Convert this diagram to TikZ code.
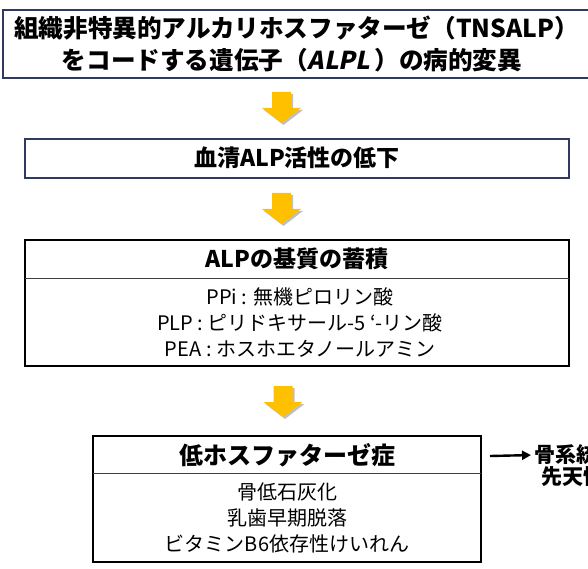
\documentclass[tikz,border=0pt]{standalone}
\usepackage{fontspec}
\setmainfont{Noto Sans CJK JP}
\newfontfamily\slfont{Noto Sans CJK JP}[FakeSlant=0.2]
\usetikzlibrary{arrows.meta}
\definecolor{navy}{HTML}{2E3B5E}
\definecolor{gold}{HTML}{FFC000}
\tikzset{
  navybox/.style={draw=navy, line width=2pt},
  blackbox/.style={draw=black, line width=1.6pt},
  divider/.style={draw=black!75, line width=1pt},
  ttl/.style={font=\bfseries\fontsize{23}{27}\selectfont, inner sep=0pt, align=center},
  bigttl/.style={font=\bfseries\fontsize{24.6}{30}\selectfont, inner sep=0pt, align=center},
  sidettl/.style={font=\bfseries\fontsize{21}{22}\selectfont, inner sep=0pt},
  lst/.style={font=\fontsize{20}{26}\selectfont, inner sep=0pt, align=center},
  goldarrow/.pic={
    \fill[black!25] (-7.5,2)--(11.5,2)--(11.5,18)--(21.5,18)--(2,33)--(-17.5,18)--(-7.5,18)--cycle;
    \fill[gold] (-9.5,0)--(9.5,0)--(9.5,16)--(19.5,16)--(0,31)--(-19.5,16)--(-9.5,16)--cycle;
  }
}
\begin{document}
\begin{tikzpicture}[x=1pt,y=-1pt]
\useasboundingbox (0,0) rectangle (588,569);
% box 1
\draw[navybox] (620,10) -- (3,10) -- (3,78) -- (620,78);
\node[bigttl] (t1) at (296.5,28) {組織非特異的アルカリホスファターゼ（TNSALP）};
\node[bigttl] (t1b) at (292,60) {をコードする遺伝子（{\slfont\bfseries ALPL}\,）の病的変異};
\pic (a1) at (281.5,92) {goldarrow};
% box 2
\draw[navybox] (25,139) rectangle (569,178);
\node[ttl] (t2) at (297,158) {血清ALP活性の低下};
\pic (a2) at (281.5,193) {goldarrow};
% box 3
\draw[blackbox] (25,240) rectangle (569,366);
\draw[divider] (25,278) -- (569,278);
\node[ttl] (t3) at (297,259) {ALPの基質の蓄積};
\node[lst] (l3) at (300,323) {PPi : 無機ピロリン酸\\PLP : ピリドキサール-5 ‘-リン酸\\PEA : ホスホエタノールアミン};
\pic (a3) at (283,386) {goldarrow};
% box 4
\draw[blackbox] (93,436) rectangle (481,562);
\draw[divider] (93,473) -- (481,473);
\node[ttl, font=\bfseries\fontsize{24}{27}\selectfont] (t4) at (287,455) {低ホスファターゼ症};
\node[lst] (l4) at (287,518) {骨低石灰化\\乳歯早期脱落\\ビタミンB6依存性けいれん};
% right text
\node[sidettl, anchor=west] (r1) at (534,455) {骨系統疾患};
\node[sidettl, anchor=west] (r2) at (541,477) {先天性疾患};
\coordinate (s) at (490,456);
\draw[line width=2.4pt, -{Triangle[length=9pt,width=9pt]}, shorten >=3pt] (s) -- (r1.west);
\end{tikzpicture}
\end{document}
